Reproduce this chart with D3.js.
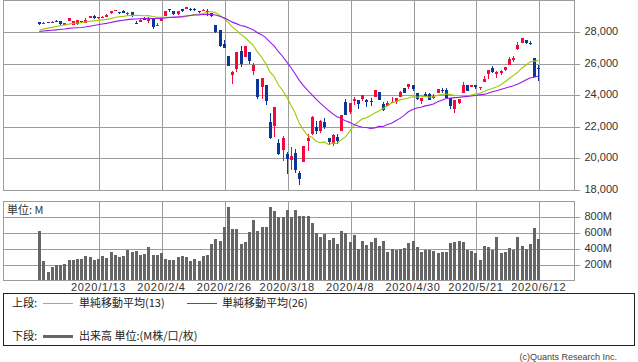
<!DOCTYPE html>
<html><head><meta charset="utf-8">
<script src="https://cdn.jsdelivr.net/npm/d3@7/dist/d3.min.js"></script>
<style>body{margin:0;background:#fff}svg{display:block}</style>
</head><body>
<svg id="c" width="638" height="362"></svg>
<script>
const dates = [
"2019/12/20","2019/12/23","2019/12/24","2019/12/26","2019/12/27","2019/12/30","2019/12/31",
"2020/1/2","2020/1/3","2020/1/6","2020/1/7","2020/1/8","2020/1/9","2020/1/10",
"2020/1/13","2020/1/14","2020/1/15","2020/1/16","2020/1/17",
"2020/1/21","2020/1/22","2020/1/23","2020/1/24",
"2020/1/27","2020/1/28","2020/1/29","2020/1/30","2020/1/31",
"2020/2/3","2020/2/4","2020/2/5","2020/2/6","2020/2/7",
"2020/2/10","2020/2/11","2020/2/12","2020/2/13","2020/2/14",
"2020/2/18","2020/2/19","2020/2/20","2020/2/21",
"2020/2/24","2020/2/25","2020/2/26","2020/2/27","2020/2/28",
"2020/3/2","2020/3/3","2020/3/4","2020/3/5","2020/3/6",
"2020/3/9","2020/3/10","2020/3/11","2020/3/12","2020/3/13",
"2020/3/16","2020/3/17","2020/3/18","2020/3/19","2020/3/20",
"2020/3/23","2020/3/24","2020/3/25","2020/3/26","2020/3/27",
"2020/3/30","2020/3/31","2020/4/1","2020/4/2","2020/4/3",
"2020/4/6","2020/4/7","2020/4/8","2020/4/9",
"2020/4/13","2020/4/14","2020/4/15","2020/4/16","2020/4/17",
"2020/4/20","2020/4/21","2020/4/22","2020/4/23","2020/4/24",
"2020/4/27","2020/4/28","2020/4/29","2020/4/30","2020/5/1",
"2020/5/4","2020/5/5","2020/5/6","2020/5/7","2020/5/8",
"2020/5/11","2020/5/12","2020/5/13","2020/5/14","2020/5/15",
"2020/5/18","2020/5/19","2020/5/20","2020/5/21","2020/5/22",
"2020/5/26","2020/5/27","2020/5/28","2020/5/29",
"2020/6/1","2020/6/2","2020/6/3","2020/6/4","2020/6/5",
"2020/6/8","2020/6/9","2020/6/10","2020/6/11","2020/6/12"];

const open = [
28600,28490,28570,28540,28675,28654,28415,
28638,28393,28465,28639,28556,28852,29000,
28832,28873,28930,29131,29313,
29230,29263,29116,29225,
28542,28593,28820,28640,28813,
28319,28627,28982,29391,29287,
29070,29390,29402,29440,29440,
29279,29306,29316,29168,
28403,28112,27213,26451,25200,
25590,26762,26383,26671,25457,
24992,24453,24604,22240,21973,
20918,20450,20200,19854,20253,
19028,19722,21050,21468,21898,
21679,22233,21228,20819,21285,
21693,23500,22875,23568,
23650,23680,23635,23560,23856,
24122,23350,23275,23479,23536,
23854,24400,24480,24595,24107,
23590,24010,24000,23754,24107,
24260,24254,23744,23046,23462,
24060,24600,24450,24578,24420,
24800,25270,25700,25300,
25340,25570,25870,26150,26860,
27232,27447,27251,26282,25659];

const high = [
28610,28580,28580,28625,28700,28665,28550,
28872,28634,28708,28685,28866,28988,29009,
28910,29000,29127,29300,29374,
29250,29373,29201,29241,
28631,28788,28893,28880,28813,
28516,28843,29308,29409,29287,
29276,29416,29568,29461,29471,
29299,29407,29409,29168,
28403,28112,27466,26451,25450,
26706,27084,27091,26671,25994,
24992,25020,24604,22837,23185,
21189,21362,20300,20626,20531,
19121,20704,21451,22596,22327,
22378,22480,21228,21447,21447,
22680,23697,23436,23846,
23650,23950,23675,23733,24265,
24122,23480,23600,23806,23775,
24196,24418,24673,24595,24107,
23750,24150,24050,24000,24332,
24394,24367,23744,23625,23689,
24765,24602,24600,24600,24490,
25170,25548,25765,25470,
25520,25750,26350,26410,27338,
27580,27447,27355,26282,25888];

const low = [
28420,28480,28500,28535,28610,28420,28400,
28627,28390,28418,28565,28502,28850,28784,
28767,28853,28903,29112,29289,
29110,29165,28985,28902,
28440,28593,28700,28500,28170,
28319,28627,28982,29216,29038,
29030,29229,29402,29318,29300,
29141,29280,28966,28897,
27921,27002,26915,25766,24681,
25391,25706,26383,25944,25226,
23707,23690,23328,21154,21286,
20116,19777,18917,19177,19000,
18214,19722,20413,21424,21470,
21522,21799,20785,20735,20863,
21693,22655,22729,23316,
23094,23576,23206,23276,23856,
23621,22941,23275,23442,23412,
23854,24078,24352,24220,23645,
23361,23800,23650,23700,24107,
24097,23762,23037,22789,23361,
24060,24200,24450,24350,24300,
24780,25000,25330,25050,
25250,25490,25850,26060,26800,
27232,27175,27104,25082,24843];

const close = [
28455,28551,28515,28621,28645,28462,28538,
28868,28634,28703,28583,28745,28957,28824,
28907,28940,29030,29298,29348,
29196,29186,29160,28990,
28535,28723,28734,28859,28256,
28400,28808,29291,29380,29103,
29276,29276,29551,29424,29398,
29232,29348,29219,28992,
27961,27081,26957,25766,25409,
26703,25917,27091,26121,25865,
23851,25018,23553,21200,23185,
20189,21237,19899,20087,19174,
18592,20704,21200,22552,21637,
22328,21917,20944,21413,21053,
22680,22654,23434,23719,
23390,23950,23504,23538,24242,
23650,23019,23475,23516,23775,
24134,24101,24634,24346,23724,
23750,23883,23664,23876,24331,
24222,23765,23248,23625,23685,
24597,24206,24576,24474,24465,
24995,25548,25401,25383,
25475,25742,26270,26282,27111,
27572,27272,27190,25128,25606];

// closes of the 25 sessions before the first bar (needed for the moving averages)
const priorCloses = [
27782,28005,28036,27934,27821,27766,27876,28066,28122,28164,28051,
27783,27503,27650,27678,28015,27910,27882,27911,28132,28135,28236,28267,28239,28377];

const volume = [
610,231,92,155,181,181,198,
252,244,257,265,294,282,244,
265,294,273,345,316,
282,303,379,345,
358,307,324,408,316,
316,337,265,252,252,
286,303,290,231,265,
240,294,316,454,
518,484,669,921,644,
644,454,480,602,757,
619,661,665,914,863,
787,787,880,791,880,
804,804,804,716,594,
539,577,501,526,450,
615,594,476,564,
387,488,438,476,526,
425,488,350,387,375,
387,400,463,488,413,
350,375,375,362,337,
350,350,463,476,488,
476,375,362,337,248,
425,413,375,539,
337,350,400,375,539,
425,387,450,653,514];

const priceTicks = [18000,20000,22000,24000,26000,28000];
const volumeTicks = [200,400,600,800];
const dateTickLabels = ["2020/1/13","2020/2/4","2020/2/26","2020/3/18","2020/4/8","2020/4/30","2020/5/21","2020/6/12"];
const maPeriods = [13, 26];
const maColors = ["#99cc00", "#9a1af0"];
const legendTop = ["上段:", "単純移動平均(13)", "単純移動平均(26)"];
const legendBottom = ["下段:", "出来高 単位:(M株/口/枚)"];
const volumeUnit = "単位: M";
const credit = "(c)Quants Research Inc.";

const svg = d3.select("#c");
const FONT = "'Liberation Sans', Arial, sans-serif";
const JFONT = "'Noto Sans CJK JP', 'Liberation Sans', sans-serif";
const GRID = "#9c9c9c";
const UP = "#f5093c", DOWN = "#0a3797";

const P = {left:3.5, right:574.5, top:0.5, bottom:190.5};
const V = {top:201.5, bottom:280.5};

svg.append("rect").attr("width",638).attr("height",362).attr("fill","#fff");

const x = d3.scaleLinear().domain([0, dates.length-1]).range([39.3, 538.3]);
const y = d3.scaleLinear().domain([18000, 28000]).range([188.7, 31.3]);
const yv = d3.scaleLinear().domain([0, 800]).range([279.7, 216.3]);
const px = i => Math.round(x(i)) + 0.5;

const tickIdx = dateTickLabels.map(l => dates.indexOf(l));

function cleanAxis(g){ g.select(".domain").remove(); }

// ---- price panel grid
svg.append("g").attr("transform",`translate(${P.right+5},0)`)
  .call(d3.axisLeft(y).tickValues(priceTicks).tickSize(P.right+5-P.left).tickFormat(""))
  .call(cleanAxis)
  .call(g=>g.selectAll("line").attr("stroke",GRID).attr("shape-rendering","crispEdges")
     .attr("transform", d=>`translate(0,${Math.round(y(d))+0.5-y(d)})`));
svg.append("g").attr("transform",`translate(0,${P.bottom})`)
  .call(d3.axisBottom(x).tickValues(tickIdx).tickSize(-(P.bottom-P.top)).tickFormat(""))
  .call(cleanAxis)
  .call(g=>g.selectAll("line").attr("stroke",GRID).attr("shape-rendering","crispEdges")
     .attr("transform", d=>`translate(${px(d)-x(d)},0)`));
svg.append("rect").attr("x",P.left).attr("y",P.top).attr("width",P.right-P.left).attr("height",P.bottom-P.top)
  .attr("fill","none").attr("stroke",GRID).attr("shape-rendering","crispEdges");

svg.append("g").attr("transform",`translate(${P.right},0)`)
  .call(d3.axisRight(y).tickValues(priceTicks).tickSize(0).tickPadding(10).tickFormat(d3.format(",")))
  .call(cleanAxis)
  .call(g=>g.selectAll("text").attr("font-family",FONT).attr("font-size",11).attr("fill","#333"));

// ---- volume panel grid
svg.append("g").attr("transform",`translate(${P.right+5},0)`)
  .call(d3.axisLeft(yv).tickValues(volumeTicks).tickSize(P.right+5-P.left).tickFormat(""))
  .call(cleanAxis)
  .call(g=>g.selectAll("line").attr("stroke",GRID).attr("shape-rendering","crispEdges")
     .attr("transform", d=>`translate(0,${Math.round(yv(d))+0.5-yv(d)})`));
svg.append("g").attr("transform",`translate(0,${V.bottom})`)
  .call(d3.axisBottom(x).tickValues(tickIdx).tickSize(-(V.bottom-V.top)).tickFormat(""))
  .call(cleanAxis)
  .call(g=>g.selectAll("line").attr("stroke",GRID).attr("shape-rendering","crispEdges")
     .attr("transform", d=>`translate(${px(d)-x(d)},0)`));
svg.append("rect").attr("x",P.left).attr("y",V.top).attr("width",P.right-P.left).attr("height",V.bottom-V.top)
  .attr("fill","none").attr("stroke",GRID).attr("shape-rendering","crispEdges");

svg.append("g").attr("transform",`translate(${P.right},0)`)
  .call(d3.axisRight(yv).tickValues(volumeTicks).tickSize(0).tickPadding(10).tickFormat(d=>d+"M"))
  .call(cleanAxis)
  .call(g=>g.selectAll("text").attr("font-family",FONT).attr("font-size",11).attr("fill","#333"));

// date labels
svg.append("g").attr("transform",`translate(0,${V.bottom})`)
  .call(d3.axisBottom(x).tickValues(tickIdx).tickSize(0).tickPadding(3).tickFormat(i=>dates[i]))
  .call(cleanAxis)
  .call(g=>g.selectAll("text").attr("font-family",FONT).attr("font-size",11).attr("fill","#333")
     .attr("letter-spacing","0.7px"));

svg.append("text").attr("x",7).attr("y",213.5).attr("font-family",JFONT).attr("font-size",11)
  .attr("fill","#333").text(volumeUnit);

// ---- volume bars
svg.append("g").selectAll("rect").data(volume).join("rect")
  .attr("x",(d,i)=>Math.round(x(i))-1).attr("width",3)
  .attr("y",d=>yv(d)).attr("height",d=>yv(0)-yv(d))
  .attr("fill","#666").attr("shape-rendering","crispEdges");

// ---- candles
const cg = svg.append("g").attr("shape-rendering","crispEdges");
dates.forEach((d,i)=>{
  const c = close[i] >= open[i] ? UP : DOWN;
  cg.append("line").attr("x1",px(i)).attr("x2",px(i)).attr("y1",y(high[i])).attr("y2",y(low[i]))
    .attr("stroke",c);
  const top = y(Math.max(open[i],close[i])), bot = y(Math.min(open[i],close[i]));
  cg.append("rect").attr("x",Math.round(x(i))-1).attr("width",3)
    .attr("y",top).attr("height",Math.max(1,bot-top)).attr("fill",c);
});

// ---- moving averages
const allCloses = priorCloses.concat(close);
const off = priorCloses.length;
maPeriods.forEach((n,k)=>{
  const ma = close.map((c,i)=>d3.mean(allCloses.slice(off+i-n+1, off+i+1)));
  svg.append("path").datum(ma)
    .attr("d", d3.line().x((d,i)=>x(i)).y(d=>y(d)))
    .attr("fill","none").attr("stroke",maColors[k]).attr("stroke-width",1.1);
});

// ---- legend
svg.append("rect").attr("x",3.5).attr("y",293.5).attr("width",631).attr("height",52)
  .attr("fill","none").attr("stroke","#222").attr("shape-rendering","crispEdges");
const lg = svg.append("g").attr("font-family",JFONT).attr("font-size",11).attr("fill","#222");
lg.append("text").attr("x",12).attr("y",307).text(legendTop[0]);
lg.append("line").attr("x1",43).attr("x2",73).attr("y1",303.5).attr("y2",303.5).attr("stroke",maColors[0]);
lg.append("text").attr("x",79).attr("y",307).text(legendTop[1]);
lg.append("line").attr("x1",187).attr("x2",217).attr("y1",303.5).attr("y2",303.5).attr("stroke",maColors[1]);
lg.append("text").attr("x",222).attr("y",307).text(legendTop[2]);
lg.append("text").attr("x",12).attr("y",340).text(legendBottom[0]);
lg.append("line").attr("x1",43).attr("x2",73).attr("y1",336.5).attr("y2",336.5).attr("stroke","#666").attr("stroke-width",3);
lg.append("text").attr("x",79).attr("y",340).text(legendBottom[1]);

svg.append("text").attr("x",617).attr("y",360).attr("text-anchor","end")
  .attr("font-family",FONT).attr("font-size",9).attr("fill","#444").text(credit);
</script>
</body></html>
